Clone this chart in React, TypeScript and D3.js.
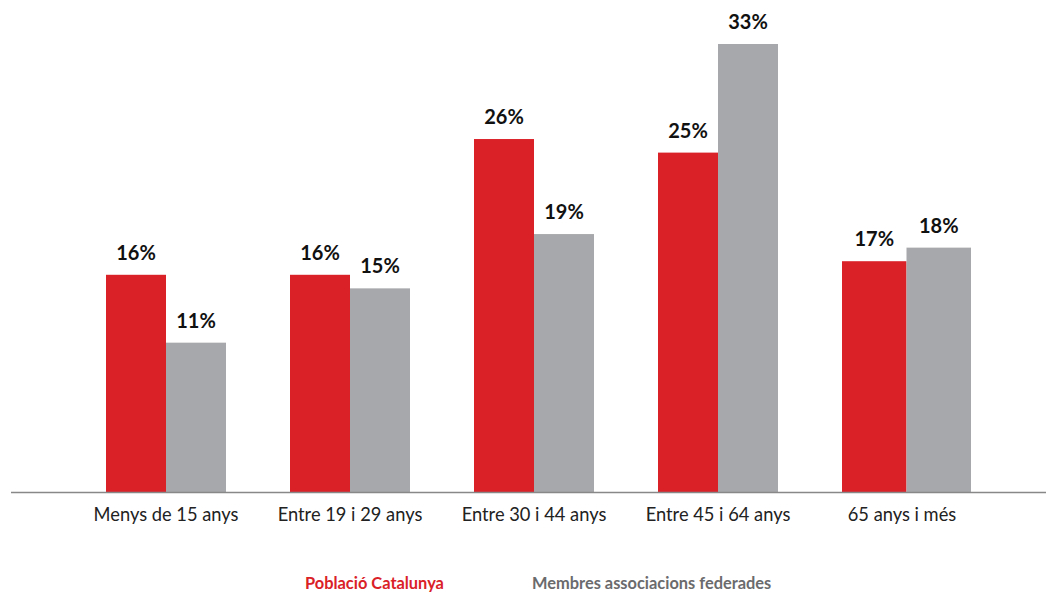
import React from "react";
import * as d3 from "d3";

const categories = ["Menys de 15 anys", "Entre 19 i 29 anys", "Entre 30 i 44 anys", "Entre 45 i 64 anys", "65 anys i més"];
const seriesNames = ["Població Catalunya", "Membres associacions federades"];
const poblacio = [16, 16, 26, 25, 17];
const membres = [11, 15, 19, 33, 18];

const W = 1046;
const H = 592;
const colors = ["#DA2128", "#A7A8AB"];
const FONT = "Lato, 'Open Sans', sans-serif";
// the last group in the original is drawn slightly wider
const groupScale = [1, 1, 1, 1, 129 / 120];

export default function App() {
  const x = d3.scaleBand<string>().domain(categories).range([74, 994]).paddingInner(64 / 184).paddingOuter(32 / 184);
  const y = d3.scaleLinear().domain([0, 33]).range([492, 44]);
  const series = [poblacio, membres];

  return (
    <svg width={W} height={H} style={{ position: "absolute", left: 0, top: 0, background: "#fff" }}>
      {categories.map((c, i) => {
        const gw = x.bandwidth() * groupScale[i];
        const xs = d3.scaleBand<string>().domain(seriesNames).range([0, gw]);
        return (
          <g key={c} transform={`translate(${x(c)},0)`}>
            {seriesNames.map((s, j) => {
              const v = series[j][i];
              const bx = xs(s)!;
              return (
                <g key={s}>
                  <rect x={bx} y={y(v)} width={xs.bandwidth()} height={y(0) - y(v)} fill={colors[j]} />
                  <text x={bx + xs.bandwidth() / 2} y={y(v) - 15} textAnchor="middle" fontFamily={FONT} fontWeight={700} fontSize={20} fill="#111">
                    {v}%
                  </text>
                </g>
              );
            })}
            <text x={x.bandwidth() / 2} y={521} textAnchor="middle" fontFamily={FONT} fontSize={18.3} fill="#222">
              {c}
            </text>
          </g>
        );
      })}
      <line x1={11} x2={1046} y1={492.5} y2={492.5} stroke="#888" strokeWidth={1.5} />
      <text x={305} y={589} fontFamily={FONT} fontWeight={700} fontSize={16.4} fill={colors[0]}>{seriesNames[0]}</text>
      <text x={532} y={589} fontFamily={FONT} fontWeight={700} fontSize={16.4} fill="#6b6b6d">{seriesNames[1]}</text>
    </svg>
  );
}
